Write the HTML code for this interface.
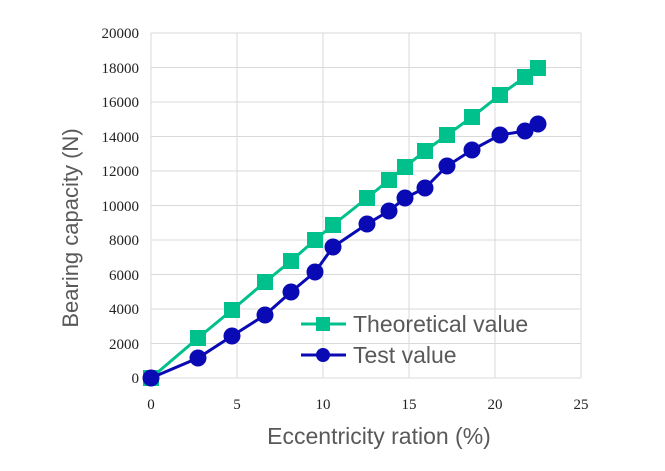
<!DOCTYPE html><html><head><style>body{margin:0;background:#fff}</style></head><body>
<svg width="665" height="466" xmlns="http://www.w3.org/2000/svg">
<g stroke="#d9d9d9" stroke-width="1">
<line x1="151" y1="33" x2="581" y2="33"/><line x1="151" y1="67.5" x2="581" y2="67.5"/><line x1="151" y1="102" x2="581" y2="102"/><line x1="151" y1="136.5" x2="581" y2="136.5"/><line x1="151" y1="171" x2="581" y2="171"/><line x1="151" y1="205.5" x2="581" y2="205.5"/><line x1="151" y1="240" x2="581" y2="240"/><line x1="151" y1="274.5" x2="581" y2="274.5"/><line x1="151" y1="309" x2="581" y2="309"/><line x1="151" y1="343.5" x2="581" y2="343.5"/><line x1="151" y1="378" x2="581" y2="378"/>
<line x1="151" y1="33" x2="151" y2="378"/><line x1="237" y1="33" x2="237" y2="378"/><line x1="323" y1="33" x2="323" y2="378"/><line x1="409" y1="33" x2="409" y2="378"/><line x1="495" y1="33" x2="495" y2="378"/><line x1="581" y1="33" x2="581" y2="378"/>
</g>
<g font-family="Liberation Serif,serif" font-size="15" fill="#222" text-anchor="end">
<text x="139" y="38">20000</text><text x="139" y="73">18000</text><text x="139" y="107">16000</text><text x="139" y="142">14000</text><text x="139" y="176">12000</text><text x="139" y="211">10000</text><text x="139" y="245">8000</text><text x="139" y="280">6000</text><text x="139" y="314">4000</text><text x="139" y="349">2000</text><text x="139" y="383">0</text>
</g>
<g font-family="Liberation Serif,serif" font-size="15" fill="#222" text-anchor="middle">
<text x="151" y="409">0</text><text x="237" y="409">5</text><text x="323" y="409">10</text><text x="409" y="409">15</text><text x="495" y="409">20</text><text x="581" y="409">25</text>
</g>
<text x="379" y="444" font-family="Liberation Sans,sans-serif" font-size="23" fill="#595959" text-anchor="middle">Eccentricity ration (%)</text>
<text transform="translate(78,228) rotate(-90)" font-family="Liberation Sans,sans-serif" font-size="22" fill="#595959" text-anchor="middle">Bearing capacity (N)</text>
<g fill="#00c08b" stroke="none">
<polyline fill="none" stroke="#00c08b" stroke-width="3" points="151,378 198,338 232,310 265,282 291,261 315,240 333,225 367,198 389,180 405,167 425,151 447,135 472,117 500,95 525,77 538,68"/>
<rect x="143" y="370" width="16" height="16"/><rect x="190" y="330" width="16" height="16"/><rect x="224" y="302" width="16" height="16"/><rect x="257" y="274" width="16" height="16"/><rect x="283" y="253" width="16" height="16"/><rect x="307" y="232" width="16" height="16"/><rect x="325" y="217" width="16" height="16"/><rect x="359" y="190" width="16" height="16"/><rect x="381" y="172" width="16" height="16"/><rect x="397" y="159" width="16" height="16"/><rect x="417" y="143" width="16" height="16"/><rect x="439" y="127" width="16" height="16"/><rect x="464" y="109" width="16" height="16"/><rect x="492" y="87" width="16" height="16"/><rect x="517" y="69" width="16" height="16"/><rect x="530" y="60" width="16" height="16"/>
<line x1="301" y1="324" x2="346" y2="324" stroke="#00c08b" stroke-width="3"/><rect x="316" y="317" width="14" height="14"/>
</g>
<g fill="#0a0ab4">
<polyline fill="none" stroke="#0a0ab4" stroke-width="3" points="151,378 198,358 232,336 265,315 291,292 315,272 333,247 367,224 389,211 405,198 425,188 447,166 472,150 500,135 525,131 538,124"/>
<circle cx="151" cy="378" r="8.5"/><circle cx="198" cy="358" r="8.5"/><circle cx="232" cy="336" r="8.5"/><circle cx="265" cy="315" r="8.5"/><circle cx="291" cy="292" r="8.5"/><circle cx="315" cy="272" r="8.5"/><circle cx="333" cy="247" r="8.5"/><circle cx="367" cy="224" r="8.5"/><circle cx="389" cy="211" r="8.5"/><circle cx="405" cy="198" r="8.5"/><circle cx="425" cy="188" r="8.5"/><circle cx="447" cy="166" r="8.5"/><circle cx="472" cy="150" r="8.5"/><circle cx="500" cy="135" r="8.5"/><circle cx="525" cy="131" r="8.5"/><circle cx="538" cy="124" r="8.5"/>
<line x1="301" y1="355" x2="346" y2="355" stroke="#0a0ab4" stroke-width="3"/><circle cx="323" cy="355" r="7"/>
</g>
<g font-family="Liberation Sans,sans-serif" font-size="23" fill="#595959">
<text x="353" y="332">Theoretical value</text><text x="353" y="363">Test value</text>
</g>
</svg>
</body></html>
